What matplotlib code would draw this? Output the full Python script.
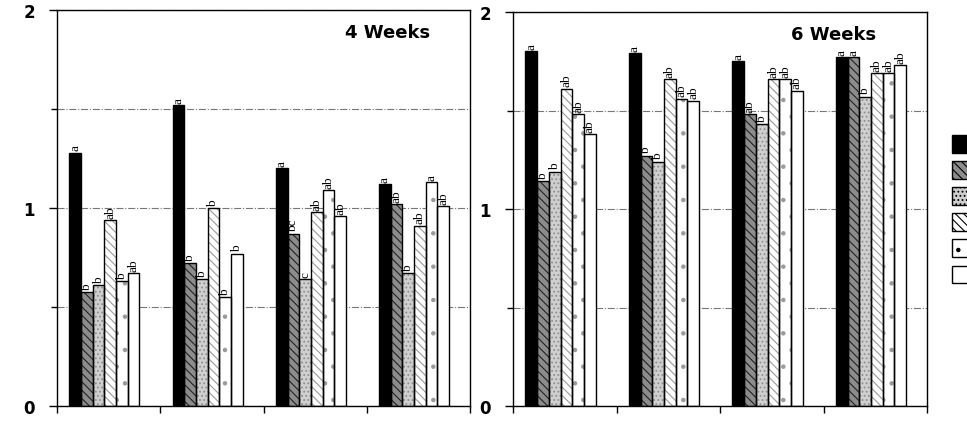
import numpy as np
import matplotlib.pyplot as plt
from matplotlib.patches import Patch

# values per treatment (series), one entry for each of the 4 groups
weeks4_values = [
    [1.28, 1.52, 1.20, 1.12],
    [0.575, 0.72, 0.87, 1.02],
    [0.61, 0.64, 0.64, 0.67],
    [0.94, 1.00, 0.98, 0.91],
    [0.63, 0.55, 1.09, 1.13],
    [0.67, 0.77, 0.96, 1.01],
]
weeks4_letters = [
    ["a", "a", "a", "a"],
    ["b", "b", "bc", "ab"],
    ["b", "b", "c", "b"],
    ["ab", "b", "ab", "ab"],
    ["b", "b", "ab", "a"],
    ["ab", "b", "ab", "ab"],
]

weeks6_values = [
    [1.80, 1.79, 1.75, 1.77],
    [1.14, 1.27, 1.48, 1.77],
    [1.19, 1.24, 1.43, 1.57],
    [1.61, 1.66, 1.66, 1.69],
    [1.48, 1.56, 1.66, 1.69],
    [1.38, 1.55, 1.60, 1.73],
]
weeks6_letters = [
    ["a", "a", "a", "a"],
    ["b", "b", "ab", "a"],
    ["b", "b", "b", "b"],
    ["ab", "ab", "ab", "ab"],
    ["ab", "ab", "ab", "ab"],
    ["ab", "ab", "ab", "ab"],
]

panel_titles = ["4 Weeks", "6 Weeks"]
y_ticks = [0, 1, 2]
y_ticklabels = ["0", "1", "2"]

# fill colour, hatch, hatch colour for each series
styles = [
    ("black", "", "black"),
    ("#8c8c8c", "\\\\\\\\", "#222222"),
    ("#cfcfcf", "....", "#8f8f8f"),
    ("white", "\\\\\\\\", "#9a9a9a"),
    ("white", ".", "#9a9a9a"),
    ("white", "", "white"),
]

plt.rcParams["hatch.linewidth"] = 0.8

fig = plt.figure(figsize=(9.67, 4.31), dpi=100)
ax1 = fig.add_axes([57 / 967, 24 / 431, 413 / 967, 396 / 431])
ax2 = fig.add_axes([513 / 967, 24 / 431, 414 / 967, 394 / 431])

n_groups = 4
bar_w = 0.113
offset = 0.12
x_base = np.arange(n_groups)


def draw_panel(ax, values, letters, title, title_x):
    for j, (vals, labs) in enumerate(zip(values, letters)):
        face, hatch, hcol = styles[j]
        xs = x_base + offset + j * bar_w
        ax.bar(xs, vals, width=bar_w, align="edge", color=face,
               hatch=hatch, edgecolor=hcol, linewidth=0, zorder=2)
        ax.bar(xs, vals, width=bar_w, align="edge", fill=False,
               edgecolor="black", linewidth=1.0, zorder=3)
        for x, v, t in zip(xs, vals, labs):
            ax.text(x + bar_w / 2, v + 0.012, t, rotation=90,
                    ha="center", va="bottom", fontsize=9.5,
                    family="Liberation Serif", zorder=4)

    ax.set_xlim(0, 4)
    ax.set_ylim(0, 2)
    ax.set_xticks(np.arange(n_groups + 1))
    ax.set_xticklabels([])
    ax.set_yticks(y_ticks)
    ax.set_yticklabels(y_ticklabels, fontweight="bold", fontsize=12)
    ax.set_yticks([0.5, 1.5], minor=True)
    ax.tick_params(axis="y", which="major", length=6, width=1, pad=10)
    ax.tick_params(axis="y", which="minor", length=4, width=1)
    ax.tick_params(axis="x", length=5, width=1, direction="out")
    ax.grid(axis="y", which="both", color="#777777", linestyle="-.",
            linewidth=0.8, zorder=0)
    ax.set_axisbelow(True)
    for sp in ax.spines.values():
        sp.set_linewidth(1.0)
    ax.text(title_x, 0.945, title, transform=ax.transAxes, ha="center",
            va="center", fontsize=13, fontweight="heavy")


draw_panel(ax1, weeks4_values, weeks4_letters, panel_titles[0], 0.80)
draw_panel(ax2, weeks6_values, weeks6_letters, panel_titles[1], 0.775)

# legend is cut off at the right edge of the figure
handles = []
for face, hatch, hcol in styles:
    handles.append(Patch(facecolor=face, hatch=hatch, edgecolor="black",
                         linewidth=1.0))
fig.legend(handles, [""] * 6, loc="upper left",
           bbox_to_anchor=(942 / 967, 1 - 126 / 431), frameon=False,
           handlelength=2.0, handleheight=1.6, labelspacing=0.6,
           borderpad=0.2, fontsize=10)

fig.savefig("out.png", dpi=100)
